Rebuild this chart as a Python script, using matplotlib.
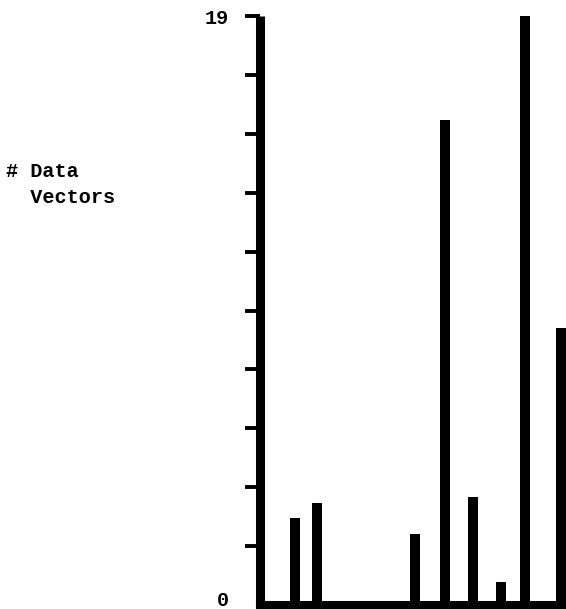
import numpy as np
from matplotlib import pyplot as plt

# bar positions along the x axis (arbitrary bin units) and counts
positions = [3.45, 5.65, 15.45, 18.45, 21.25, 24.1, 26.5, 30.05]
counts = [2.8, 3.3, 2.3, 15.65, 3.5, 0.75, 19.0, 8.95]
ymax = 19
ytick_vals = np.linspace(0, ymax, 11)
ylabels = {0: "0", 19: "19"}

W, H = 566, 609
font = {"family": "Liberation Mono", "weight": "bold", "size": 14.5}

fig = plt.figure(figsize=(W / 100, H / 100), dpi=100)
ax = fig.add_axes([260 / W, (H - 605) / H, (W - 260) / W, (605 - 16) / H])

ax.bar(positions, counts, width=1.0, color="black")

ax.set_xlim(0, (W - 260) / 10)
ax.set_ylim(0, ymax)

for s in ["top", "right"]:
    ax.spines[s].set_visible(False)
ax.spines["left"].set_linewidth(6.5)
ax.spines["bottom"].set_linewidth(5.8)
ax.spines["left"].set_capstyle("butt")
ax.spines["bottom"].set_capstyle("projecting")

ax.set_xticks([])
ax.set_yticks(ytick_vals, labels=[""] * len(ytick_vals))
ax.tick_params(axis="y", direction="out", length=10.8, width=2.8)
ax.yaxis.get_major_ticks()[0].tick1line.set_visible(False)

# value labels at the ends of the axis (0 sits a bit above the baseline)
offsets = {0: 5, 19: -3}
for v, txt in ylabels.items():
    ax.annotate(txt, xy=(0, v), xycoords=("axes fraction", "data"),
                xytext=(-31, offsets[v]), textcoords="offset pixels",
                ha="right", va="center", **font)

fig.text(6 / W, 1 - 177 / H, "# Data", va="baseline", ha="left", **font)
fig.text(6 / W, 1 - 203 / H, "  Vectors", va="baseline", ha="left", **font)

plt.savefig("out.png", dpi=100)
